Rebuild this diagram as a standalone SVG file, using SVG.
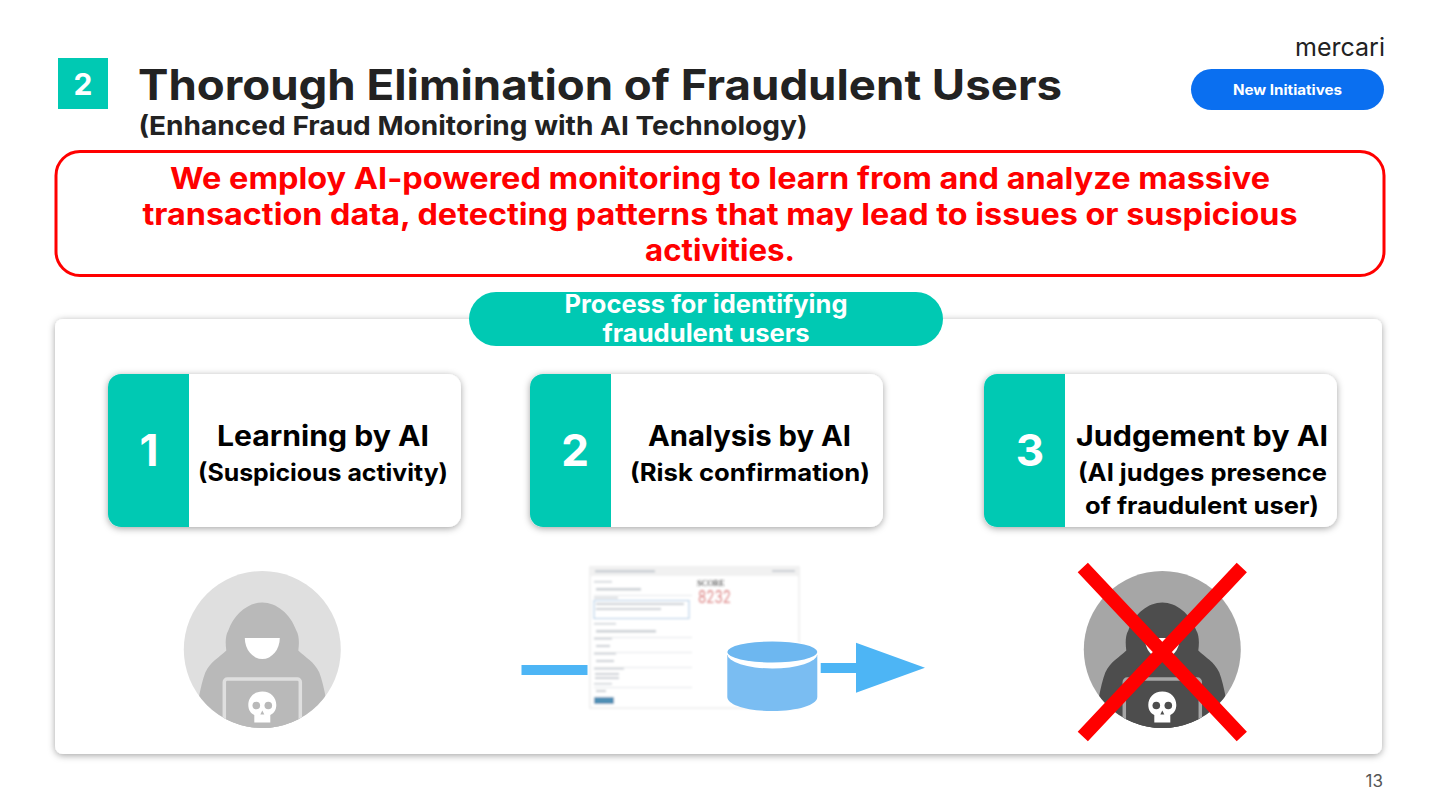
<svg xmlns="http://www.w3.org/2000/svg" width="1440" height="810" viewBox="0 0 1440 810">
<style>
text{font-family:"Inter","Open Sans","Liberation Sans",sans-serif;font-weight:700}
.c{text-anchor:middle}
.teal{fill:#00c9b3}
.card{fill:#fff;filter:url(#sh)}
.num{fill:#fff;font-size:44px}
.h{fill:#000;font-size:28px}
.s{fill:#000;font-size:24px}
.red{fill:#f00;font-size:30px}
.wh{fill:#fff;font-size:25px}
.x{stroke:#f00;stroke-width:14;fill:none}
.bar{fill:#c9ced3}
.arrow{fill:#4db5f5}
</style>
<defs>
<filter id="sh" x="-5%" y="-5%" width="110%" height="112%"><feDropShadow dx="0" dy="1.500" stdDeviation="3.500" flood-color="#000" flood-opacity=".36"/></filter>
<filter id="bl" x="-5%" y="-5%" width="110%" height="110%"><feGaussianBlur stdDeviation=".9"/></filter>
<clipPath id="cp"><circle cx="0" cy="0" r="78.5"/></clipPath>
<path id="skull" d="M0-17C-8.500-17-14-11-14-3.500C-14 1.500-11.500 5-8 6.500V14H8V6.500C11.500 5 14 1.500 14-3.500C14-11 8.500-17 0-17Z"/>
<g id="hood" clip-path="url(#cp)"><path d="M-68 80C-66 60-62 36-57 23C-52 12-43 8-36 1C-37-6-37-14-34-19C-28-36-14-47 0-47C14-47 28-36 34-19C37-14 37-6 36 1C43 8 52 12 57 23C62 36 66 60 68 80Z"/></g>
</defs>
<rect width="1440" height="810" fill="#fff"/>
<g id="header">
<rect class="teal" x="58" y="58" width="50" height="51"/>
<text class="c" x="83" y="95" font-size="30" fill="#fff">2</text>
<text x="138" y="100" font-size="42" fill="#222" textLength="924" lengthAdjust="spacingAndGlyphs">Thorough Elimination of Fraudulent Users</text>
<text x="138.500" y="135" font-size="26" fill="#222" textLength="669" lengthAdjust="spacingAndGlyphs">(Enhanced Fraud Monitoring with AI Technology)</text>
<text x="1295" y="56" font-size="25" fill="#222" textLength="90" lengthAdjust="spacingAndGlyphs" style="font-weight:400">mercari</text>
<rect x="1191" y="69" width="193" height="41" rx="20.500" fill="#0a6ff0"/>
<text class="c" x="1287.500" y="95" font-size="14" fill="#fff" textLength="109" lengthAdjust="spacingAndGlyphs">New Initiatives</text>
<text x="1383" y="787" text-anchor="end" font-size="17" fill="#555" style="font-weight:400">13</text>
</g>
<g id="statement">
<rect x="56" y="151.500" width="1328" height="124" rx="24" fill="#fff" stroke="#f00" stroke-width="3"/>
<text class="c red" x="720" y="188.500" textLength="1100" lengthAdjust="spacingAndGlyphs">We employ AI-powered monitoring to learn from and analyze massive</text>
<text class="c red" x="720" y="224.500" textLength="1155" lengthAdjust="spacingAndGlyphs">transaction data, detecting patterns that may lead to issues or suspicious</text>
<text class="c red" x="720" y="260.500" textLength="150" lengthAdjust="spacingAndGlyphs">activities.</text>
</g>
<g id="panel">
<rect class="card" x="55" y="319" width="1327" height="435" rx="8"/>
</g>
<g id="process-title">
<rect class="teal" x="469" y="292" width="474" height="54" rx="27"/>
<text class="c wh" x="706" y="313" textLength="283" lengthAdjust="spacingAndGlyphs">Process for identifying</text>
<text class="c wh" x="706" y="342" textLength="207" lengthAdjust="spacingAndGlyphs">fraudulent users</text>
</g>
<g id="step1">
<rect class="card" x="108" y="374" width="353" height="153" rx="13"/>
<path class="teal" d="M189 374H121a13 13 0 0 0-13 13V514a13 13 0 0 0 13 13H189Z"/>
<text class="c num" x="149" y="466">1</text>
<text class="c h" x="323" y="446" textLength="212" lengthAdjust="spacingAndGlyphs">Learning by AI</text>
<text class="c s" x="323" y="481" textLength="250" lengthAdjust="spacingAndGlyphs">(Suspicious activity)</text>
</g>
<g id="step2">
<rect class="card" x="530" y="374" width="353" height="153" rx="13"/>
<path class="teal" d="M611 374H543a13 13 0 0 0-13 13V514a13 13 0 0 0 13 13H611Z"/>
<text class="c num" x="575" y="466">2</text>
<text class="c h" x="749.500" y="446" textLength="203" lengthAdjust="spacingAndGlyphs">Analysis by AI</text>
<text class="c s" x="750" y="481" textLength="240" lengthAdjust="spacingAndGlyphs">(Risk confirmation)</text>
</g>
<g id="step3">
<rect class="card" x="984" y="374" width="353" height="153" rx="13"/>
<path class="teal" d="M1065 374H997a13 13 0 0 0-13 13V514a13 13 0 0 0 13 13H1065Z"/>
<text class="c num" x="1030" y="466">3</text>
<text class="c h" x="1202" y="446" textLength="252" lengthAdjust="spacingAndGlyphs">Judgement by AI</text>
<text class="c s" x="1202.500" y="481" textLength="249" lengthAdjust="spacingAndGlyphs">(AI judges presence</text>
<text class="c s" x="1202" y="514" textLength="234" lengthAdjust="spacingAndGlyphs">of fraudulent user)</text>
</g>
<g id="hacker" transform="translate(262.300 649.500)">
<circle r="78.500" fill="#dfdfdf"/>
<use href="#hood" fill="#b9b9b9"/>
<path d="M-17.500-11.500H17.500A17.500 21 0 0 1-17.500-11.500Z" fill="#fff"/>
<g clip-path="url(#cp)">
<rect x="-38" y="29.500" width="76" height="60" rx="3" fill="#b9b9b9" stroke="#dfdfdf" stroke-width="3.500"/>
<g transform="translate(0 59)"><use href="#skull" fill="#fff"/><circle cx="-6" cy="-3" r="3.800" fill="#b9b9b9"/><circle cx="6" cy="-3" r="3.800" fill="#b9b9b9"/><path d="M0 2l2 4h-4Z" fill="#b9b9b9"/></g>
</g>
</g>
<g id="score-screen" filter="url(#bl)">
<rect x="589" y="566" width="211" height="143" fill="#f1f1f1"/>
<rect x="591" y="576" width="207" height="131" fill="#fff"/>
<rect class="bar" x="595" y="570" width="60" height="2.500"/>
<rect class="bar" x="772" y="570" width="23" height="2"/>
<rect class="bar" x="594" y="581" width="18" height="1.500"/>
<rect class="bar" x="596" y="588" width="45" height="2.500"/>
<rect x="594" y="595" width="98" height="1" fill="#e4e6e8"/>
<rect class="bar" x="594" y="597" width="24" height="1.500"/>
<rect x="594" y="600.500" width="95" height="18" fill="#fff" stroke="#a8c8e4"/>
<rect class="bar" x="596" y="603" width="88" height="2"/>
<rect class="bar" x="596" y="608" width="65" height="2"/>
<rect class="bar" x="594" y="623" width="22" height="1.500"/>
<rect class="bar" x="596" y="630" width="60" height="2.500"/>
<rect x="594" y="637" width="98" height="1" fill="#e4e6e8"/>
<rect class="bar" x="594" y="638" width="18" height="1.500"/>
<rect class="bar" x="596" y="645" width="14" height="2"/>
<rect x="594" y="652" width="98" height="1" fill="#e4e6e8"/>
<rect class="bar" x="594" y="653" width="22" height="1.500"/>
<rect class="bar" x="596" y="660" width="18" height="2"/>
<rect x="594" y="667" width="98" height="1" fill="#e4e6e8"/>
<rect class="bar" x="594" y="668" width="30" height="1.500"/>
<rect class="bar" x="595" y="673" width="24" height="2"/>
<rect class="bar" x="595" y="677" width="24" height="2"/>
<rect class="bar" x="594" y="683" width="18" height="1.500"/>
<rect class="bar" x="596" y="690" width="10" height="2"/>
<rect x="594" y="687" width="98" height="1" fill="#e4e6e8"/>
<rect x="594" y="697" width="20" height="7" rx="1" fill="#4f8fb5"/>
</g>
<g id="score-text" filter="url(#bl)">
<text x="697" y="586" font-size="8.500" fill="#333" style="font-family:'Liberation Serif',serif;font-weight:400">SCORE</text>
<text x="698" y="603" font-size="17" fill="#d88" textLength="33" lengthAdjust="spacingAndGlyphs" style="font-weight:400">8232</text>
</g>
<g id="database">
<path d="M727.300 655V697C727.300 705 747 711 772.300 711S817.300 705 817.300 697V655Z" fill="#7abdf2"/>
<ellipse cx="772.300" cy="654" rx="45" ry="14.500" fill="#fff"/>
<ellipse cx="772.300" cy="652" rx="45" ry="10.500" fill="#6db7f0"/>
</g>
<g id="connectors">
<rect class="arrow" x="521.500" y="665" width="66" height="10"/>
<path class="arrow" d="M820.700 663H856V642.700L925 667.700L856 692.700V673H820.700Z"/>
</g>
<g id="hacker-eliminated" transform="translate(1162.300 649.500)">
<circle r="78.500" fill="#a6a6a6"/>
<use href="#hood" fill="#4d4d4d"/>
<path d="M-17.500-11.500H17.500A17.500 21 0 0 1-17.500-11.500Z" fill="#fff"/>
<g clip-path="url(#cp)">
<rect x="-38" y="29.500" width="76" height="60" rx="3" fill="#4d4d4d" stroke="#a6a6a6" stroke-width="3.500"/>
<g transform="translate(0 59)"><use href="#skull" fill="#fff"/><circle cx="-6" cy="-3" r="3.800" fill="#4d4d4d"/><circle cx="6" cy="-3" r="3.800" fill="#4d4d4d"/><path d="M0 2l2 4h-4Z" fill="#4d4d4d"/></g>
</g>
<path class="x" d="M-79.500-82L79.500 87M79.500-82L-79.500 87"/>
</g>
</svg>
